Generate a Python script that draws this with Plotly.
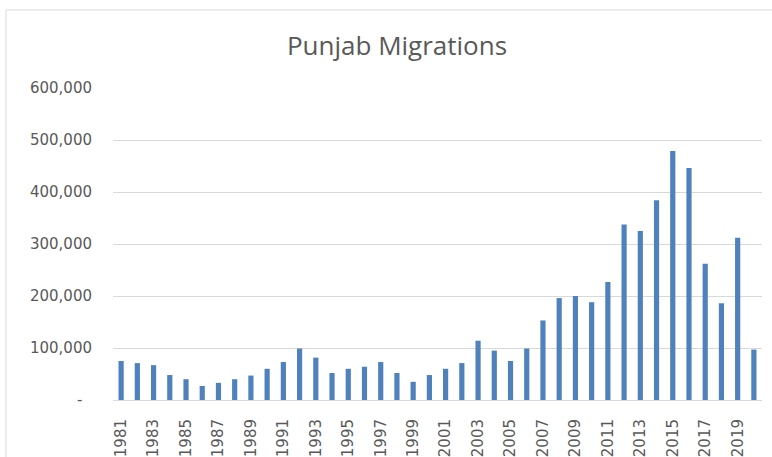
import plotly.graph_objects as go

years = list(range(1981, 2021))
migrations = [
    75000, 71000, 67000, 48000, 40000, 27000, 33000, 40000, 47000, 60000,
    73000, 99000, 81500, 52000, 60000, 64000, 73000, 52000, 35000, 48000,
    60000, 71000, 114000, 95000, 75000, 99000, 153000, 196000, 200000, 188000,
    227000, 337500, 325000, 384000, 479000, 446000, 262000, 186000, 312000, 97000,
]
y_ticks = [0, 100000, 200000, 300000, 400000, 500000, 600000]
y_tick_labels = ["-\u00a0\u00a0", "100,000", "200,000", "300,000", "400,000", "500,000", "600,000"]
x_tick_years = [str(y) for y in years if y % 2 == 1]

W, H = 772, 457
L, R, T, B = 113, 10, 88, 57
pw, ph = W - L - R, H - T - B

fig = go.Figure(
    go.Bar(
        x=[str(y) for y in years],
        y=migrations,
        marker=dict(color="#4F81BD", line=dict(width=0)),
        width=0.32,
    )
)

grey = "#595959"
fig.update_layout(
    width=W,
    height=H,
    margin=dict(l=L, r=R, t=T, b=B, autoexpand=False),
    paper_bgcolor="white",
    plot_bgcolor="white",
    showlegend=False,
    title=dict(
        text="Punjab Migrations",
        font=dict(family="Open Sans", size=26, color=grey),
        x=397 / W,
        xanchor="center",
        xref="container",
        y=1 - 46 / H,
        yanchor="middle",
        yref="container",
    ),
    xaxis=dict(
        type="category",
        tickmode="array",
        tickvals=x_tick_years,
        ticktext=x_tick_years,
        tickangle=-90,
        tickfont=dict(family="DejaVu Sans", size=15, color=grey),
        showgrid=False,
        showline=True,
        linecolor="#D9D9D9",
        linewidth=1,
        ticks="",
        ticklabelstandoff=12,
        automargin=False,
    ),
    yaxis=dict(
        range=[0, 600000],
        tickmode="array",
        tickvals=y_ticks,
        ticktext=y_tick_labels,
        tickfont=dict(family="DejaVu Sans", size=15, color=grey),
        showgrid=True,
        gridcolor="#D9D9D9",
        gridwidth=1,
        zeroline=False,
        showline=False,
        ticks="",
        ticklabelstandoff=20,
        automargin=False,
    ),
    shapes=[
        dict(
            type="rect",
            xref="paper",
            yref="paper",
            x0=(6 - L) / pw,
            x1=1.2,
            y0=-0.5,
            y1=(H - B - 10) / ph,
            line=dict(color="#D9D9D9", width=1),
            fillcolor="rgba(0,0,0,0)",
            layer="below",
        )
    ],
)

fig.write_html("out.html")
